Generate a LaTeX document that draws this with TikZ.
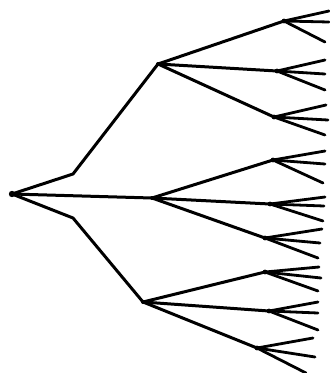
\documentclass[tikz,border=0pt]{standalone}
\begin{document}
\begin{tikzpicture}[x=1pt,y=-1pt,
  edge/.style={line width=3pt,line cap=round,line join=round,black},
  leaf/.style={line width=2.8pt,line cap=round,black},
  blob/.style={black}]
\useasboundingbox (0,0) rectangle (330,373);
% root and level 1
\coordinate (r) at (12,194);
\coordinate (ku) at (73,174);
\coordinate (kl) at (73,218);
\coordinate (A) at (158,64);
\coordinate (B) at (152,198);
\coordinate (C) at (143,302);
% level 2
\coordinate (A1) at (284,21);
\coordinate (A2) at (277,71);
\coordinate (A3) at (274,117);
\coordinate (B1) at (273,160);
\coordinate (B2) at (270,204);
\coordinate (B3) at (265,238);
\coordinate (C1) at (265,272);
\coordinate (C2) at (269,311);
\coordinate (C3) at (257,348);
% leaves
\coordinate (a11) at (329,11);
\coordinate (a12) at (329,22);
\coordinate (a13) at (325,42);
\coordinate (a21) at (325,60);
\coordinate (a22) at (325,74);
\coordinate (a23) at (325,90);
\coordinate (a31) at (326,105);
\coordinate (a32) at (328,120);
\coordinate (a33) at (325,135);
\coordinate (b11) at (325,151);
\coordinate (b12) at (325,164);
\coordinate (b13) at (323,183);
\coordinate (b21) at (325,197);
\coordinate (b22) at (324,206);
\coordinate (b23) at (323,221);
\coordinate (b31) at (322,229);
\coordinate (b32) at (320,243);
\coordinate (b33) at (318,258);
\coordinate (c11) at (319,267);
\coordinate (c12) at (321,278);
\coordinate (c13) at (318,291);
\coordinate (c21) at (318,302);
\coordinate (c22) at (318,313);
\coordinate (c23) at (318,330);
\coordinate (c31) at (313,338);
\coordinate (c32) at (315,357);
\coordinate (c33) at (306,373);
% edges
\draw[edge] (r) -- (ku) -- (A);
\draw[edge] (r) -- (B);
\draw[edge] (r) -- (kl) -- (C);
\foreach \p in {A,B,C}{
  \foreach \c in {1,2,3}{
    \draw[edge] (\p) -- (\p\c);
  }
}
\foreach \p/\q in {A1/a1,A2/a2,A3/a3,B1/b1,B2/b2,B3/b3,C1/c1,C2/c2,C3/c3}{
  \foreach \c in {1,2,3}{
    \draw[leaf] (\p) -- (\q\c);
  }
  \fill[blob] (\p) circle (2.4pt);
}
\foreach \p in {A,B,C}{\fill[blob] (\p) circle (2pt);}
\fill[blob] (r) circle (3.2pt);
\end{tikzpicture}
\end{document}
